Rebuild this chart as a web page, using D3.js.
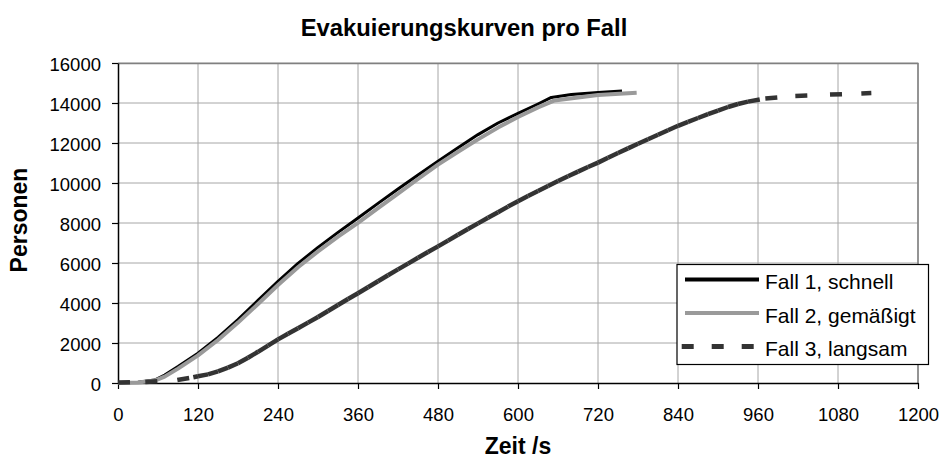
<!DOCTYPE html>
<html>
<head>
<meta charset="utf-8">
<script src="https://cdnjs.cloudflare.com/ajax/libs/d3/7.8.5/d3.min.js"></script>
<style>
  body { margin: 0; background: #fff; }
  svg { display: block; font-family: "Liberation Sans", Arial, sans-serif; }
</style>
</head>
<body>
<div id="chart"></div>
<script>
// Evakuierungskurven - values
var xTicks = [0, 120, 240, 360, 480, 600, 720, 840, 960, 1080, 1200];
var yTicks = [0, 2000, 4000, 6000, 8000, 10000, 12000, 14000, 16000];

var seriesNames = ["Fall 1, schnell", "Fall 2, gemäßigt", "Fall 3, langsam"];

var timesFall1 = [0, 30, 55, 70, 90, 120, 150, 180, 210, 240, 270, 300, 330, 360, 390, 420, 450, 480, 510, 540, 570, 600, 630, 650, 680, 720, 756];
var personsFall1 = [0, 40, 150, 400, 820, 1490, 2280, 3170, 4130, 5080, 5980, 6780, 7530, 8250, 8980, 9700, 10400, 11090, 11760, 12420, 13000, 13480, 13950, 14280, 14420, 14530, 14600];

var timesFall2 = [0, 30, 55, 70, 90, 120, 150, 180, 210, 240, 270, 300, 330, 360, 390, 420, 450, 480, 510, 540, 570, 600, 630, 655, 690, 720, 778];
var personsFall2 = [0, 30, 120, 320, 720, 1380, 2150, 3020, 3950, 4900, 5790, 6580, 7320, 8010, 8740, 9470, 10200, 10920, 11560, 12180, 12770, 13300, 13780, 14130, 14280, 14400, 14510];

var timesFall3 = [0, 41, 89, 113, 120, 135, 150, 165, 180, 195, 210, 225, 240, 255, 270, 285, 300, 315, 330, 345, 360, 375, 390, 405, 420, 435, 450, 465, 480, 495, 510, 525, 540, 555, 570, 585, 600, 615, 630, 645, 660, 675, 690, 705, 720, 735, 750, 765, 780, 795, 810, 825, 840, 855, 870, 885, 900, 915, 930, 945, 971, 1016, 1068, 1115, 1130];
var personsFall3 = [20, 50, 150, 290, 340, 430, 580, 770, 990, 1260, 1560, 1870, 2180, 2460, 2740, 3020, 3300, 3600, 3900, 4200, 4490, 4790, 5090, 5390, 5680, 5970, 6260, 6550, 6830, 7120, 7410, 7700, 7980, 8260, 8540, 8820, 9090, 9350, 9600, 9850, 10100, 10340, 10570, 10800, 11020, 11260, 11500, 11730, 11960, 12190, 12410, 12640, 12860, 13060, 13250, 13440, 13620, 13800, 13950, 14070, 14230, 14350, 14420, 14480, 14500];

var svgWidth = 942;
var svgHeight = 459;

var margin = {
  top: 63,
  right: 24,
  bottom: 76,
  left: 118
};

var width = svgWidth - margin.left - margin.right;
var height = svgHeight - margin.top - margin.bottom;

var svg = d3.select("#chart")
  .append("svg")
  .attr("width", svgWidth)
  .attr("height", svgHeight);

var chartGroup = svg.append("g")
  .attr("transform", `translate(${margin.left}, ${margin.top})`);

// Scales
var xLinearScale = d3.scaleLinear()
  .domain([0, 1200])
  .range([0, width]);

var yLinearScale = d3.scaleLinear()
  .domain([0, 16000])
  .range([height, 0]);

// Grid lines
chartGroup.selectAll(".vgrid")
  .data(xTicks.slice(1))
  .enter()
  .append("line")
  .attr("x1", d => xLinearScale(d))
  .attr("x2", d => xLinearScale(d))
  .attr("y1", 0)
  .attr("y2", height)
  .attr("stroke", "#a6a6a6")
  .attr("stroke-width", 1);

chartGroup.selectAll(".hgrid")
  .data(yTicks.slice(1))
  .enter()
  .append("line")
  .attr("x1", 0)
  .attr("x2", width)
  .attr("y1", d => yLinearScale(d))
  .attr("y2", d => yLinearScale(d))
  .attr("stroke", "#a6a6a6")
  .attr("stroke-width", 1);

// plot border top/right
chartGroup.append("path")
  .attr("d", `M0,0.5H${width}V${height}`)
  .attr("fill", "none")
  .attr("stroke", "#808080")
  .attr("stroke-width", 1.5);

// Axes
var bottomAxis = d3.axisBottom(xLinearScale)
  .tickValues(xTicks)
  .tickSizeInner(6)
  .tickSizeOuter(0)
  .tickPadding(19)
  .tickFormat(d3.format("d"));

var leftAxis = d3.axisLeft(yLinearScale)
  .tickValues(yTicks)
  .tickSizeInner(6)
  .tickSizeOuter(0)
  .tickPadding(11)
  .tickFormat(d3.format("d"));

var xAxisGroup = chartGroup.append("g")
  .attr("transform", `translate(0, ${height})`)
  .call(bottomAxis);

var yAxisGroup = chartGroup.append("g")
  .call(leftAxis);

[xAxisGroup, yAxisGroup].forEach(function(g) {
  g.select(".domain").attr("stroke", "#000").attr("stroke-width", 1.5);
  g.selectAll(".tick line").attr("stroke", "#000").attr("stroke-width", 1.2);
  g.selectAll(".tick text")
    .attr("fill", "#000")
    .style("font-size", "18.5px")
    .style("font-family", "'Liberation Sans', Arial, sans-serif");
});
yAxisGroup.selectAll(".tick text").attr("dy", "0.38em");

// Lines
var line = d3.line()
  .x(d => xLinearScale(d[0]))
  .y(d => yLinearScale(d[1]));

var fall1 = d3.zip(timesFall1, personsFall1);
var fall2 = d3.zip(timesFall2, personsFall2);
var fall3 = d3.zip(timesFall3, personsFall3);

chartGroup.append("path")
  .datum(fall1)
  .attr("d", line)
  .attr("fill", "none")
  .attr("stroke", "#000")
  .attr("stroke-width", 3)
  .attr("stroke-linejoin", "round");

chartGroup.append("path")
  .datum(fall2)
  .attr("d", line)
  .attr("fill", "none")
  .attr("stroke", "#9a9a9a")
  .attr("stroke-width", 4)
  .attr("stroke-linejoin", "round");

// dashed like the old office chart: the dash restarts on every segment
chartGroup.selectAll(".seg3")
  .data(d3.pairs(fall3))
  .enter()
  .append("path")
  .attr("d", d => line(d))
  .attr("fill", "none")
  .attr("stroke", "#333333")
  .attr("stroke-width", 4.5)
  .attr("stroke-dasharray", "12,60");

// Title and axis labels
svg.append("text")
  .attr("x", 464)
  .attr("y", 36)
  .attr("text-anchor", "middle")
  .style("font-size", "23.8px")
  .style("font-weight", "bold")
  .text("Evakuierungskurven pro Fall");

svg.append("text")
  .attr("transform", "translate(27, 220) rotate(-90)")
  .attr("text-anchor", "middle")
  .style("font-size", "23px")
  .style("font-weight", "bold")
  .text("Personen");

svg.append("text")
  .attr("x", margin.left + width / 2)
  .attr("y", 454)
  .attr("text-anchor", "middle")
  .style("font-size", "23px")
  .style("font-weight", "bold")
  .text("Zeit /s");

// Legend
var legend = svg.append("g")
  .attr("transform", "translate(677, 264.5)");

legend.append("rect")
  .attr("width", 251.5)
  .attr("height", 100)
  .attr("fill", "#fff")
  .attr("stroke", "#000")
  .attr("stroke-width", 1.2);

var legendColors = ["#000", "#9a9a9a", "#333333"];
var legendWidths = [4, 4, 5];

seriesNames.forEach(function(name, i) {
  var cy = 15 + i * 33.5;
  legend.append("line")
    .attr("x1", i === 2 ? 4.7 : 8)
    .attr("x2", 82)
    .attr("y1", cy)
    .attr("y2", cy)
    .attr("stroke", legendColors[i])
    .attr("stroke-width", legendWidths[i])
    .attr("stroke-dasharray", i === 2 ? "12,18" : null);
  legend.append("text")
    .attr("x", 88)
    .attr("y", cy + 9.8)
    .style("font-size", "21px")
    .text(name);
});
</script>
</body>
</html>
